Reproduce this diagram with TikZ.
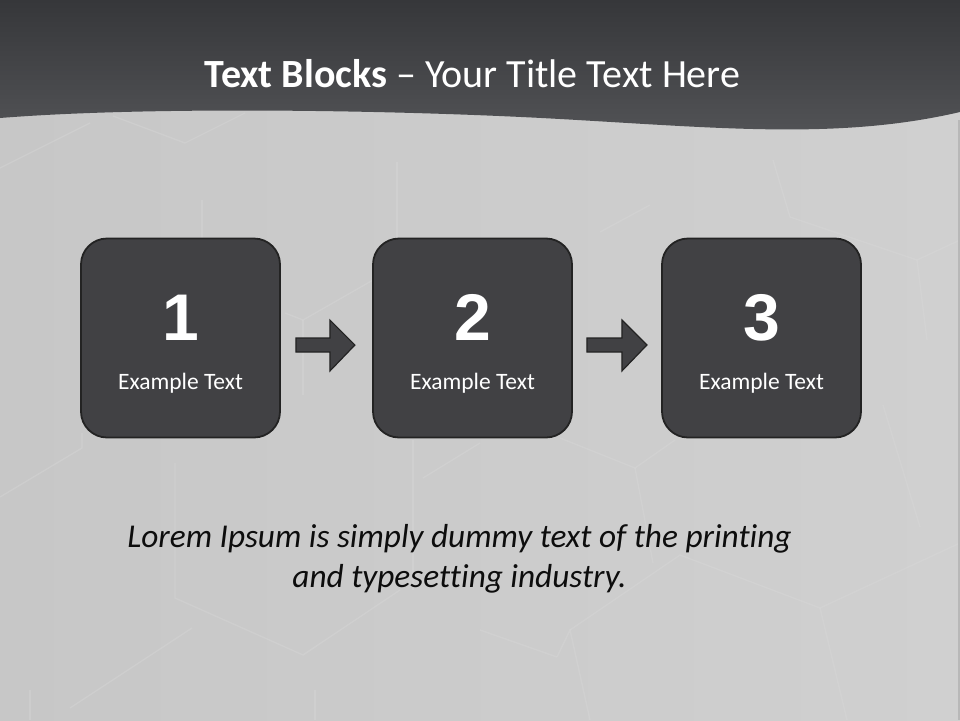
\documentclass[tikz,border=0pt]{standalone}
\usepackage{fontspec}
\setmainfont{Carlito}[Ligatures=NoCommon]
\newfontfamily\numfont{Liberation Sans}
\usetikzlibrary{calc}
\definecolor{bgleft}{HTML}{C7C7C7}
\definecolor{bgright}{HTML}{D0D0D0}
\definecolor{bandtop}{HTML}{36373A}
\definecolor{bandbot}{HTML}{535457}
\definecolor{boxfill}{HTML}{414144}
\definecolor{boxline}{HTML}{232323}
\definecolor{hexline}{HTML}{DADADA}
\tikzset{
  box/.style={draw=boxline, fill=boxfill, line width=1.8pt, rounded corners=26pt,
    minimum width=199pt, minimum height=199pt, inner sep=0pt},
  numtext/.style={text=white, anchor=base, font=\numfont\bfseries\fontsize{66}{70}\selectfont, inner sep=0pt},
  labtext/.style={text=white, anchor=base, font=\fontsize{23.5}{27}\selectfont, inner sep=0pt},
  blockarrow/.style={draw=boxline, fill=boxfill, line width=1.2pt, line join=miter},
  hex/.style={draw=hexline, line width=1.3pt, opacity=0.35}
}
\begin{document}
\begin{tikzpicture}[x=1pt,y=-1pt]
\useasboundingbox (0,0) rectangle (960,720);
% background
\shade[left color=bgleft, right color=bgright] (0,0) rectangle (960,720);
% faint hexagon pattern
\draw[hex] (0,168) -- (90,123);
\draw[hex] (113,116) -- (185,143) -- (245,113);
\draw[hex] (285,313) -- (303,320) -- (373,280);
\draw[hex] (303,320) -- (303,395);
\draw[hex] (202,200) -- (202,300);
\draw[hex] (397,162) -- (397,280);
\draw[hex] (0,497) -- (82,448) -- (82,433);
\draw[hex] (175,463) -- (175,598) -- (303,655) -- (400,590);
\draw[hex] (423,478) -- (480,443);
\draw[hex] (70,708) -- (192,628);
\draw[hex] (30,690) -- (30,720);
\draw[hex] (315,690) -- (315,720);
\draw[hex] (413,440) -- (413,590);
\draw[hex] (560,438) -- (635,468) -- (675,440);
\draw[hex] (635,468) -- (653,563);
\draw[hex] (480,630) -- (557,657);
\draw[hex] (570,630) -- (680,555) -- (820,608) -- (960,543);
\draw[hex] (820,608) -- (847,720);
\draw[hex] (557,657) -- (570,630) -- (590,720);
\draw[hex] (773,160) -- (790,217) -- (917,260) -- (960,240);
\draw[hex] (917,260) -- (927,340);
\draw[hex] (883,405) -- (920,527);
\draw[hex] (600,232) -- (650,205);
\draw[draw=black!28, line width=1.5pt] (959,120) -- (959,720);
% title band
\shade[top color=bandtop, bottom color=bandbot]
  (0,0) -- (960,0) -- (960,112)
  .. controls (840,140) and (720,128) .. (560,119)
  .. controls (400,110) and (150,106) .. (0,118) -- cycle;
\node[text=white, anchor=base, inner sep=0pt, font=\fontsize{40}{46}\selectfont] (title) at (472.5,87)
  {\textbf{Text Blocks} – Your Title Text Here};
% boxes
\node[box] (b1) at (180.5,338) {};
\node[box] (b2) at (472.5,338) {};
\node[box] (b3) at (761.5,338) {};
\node[numtext] (n1) at ($(b1.center)+(0,2)$) {1};
\node[numtext] (n2) at ($(b2.center)+(0,2)$) {2};
\node[numtext] (n3) at ($(b3.center)+(0,2)$) {3};
\node[labtext] (l1) at ($(b1.center)+(0,51)$) {Example Text};
\node[labtext] (l2) at ($(b2.center)+(0,51)$) {Example Text};
\node[labtext] (l3) at ($(b3.center)+(0,51)$) {Example Text};
% block arrows
\coordinate (a1) at ($(b1.east)+(15,7)$);
\coordinate (a2) at ($(b2.east)+(14,7)$);
\begin{scope}[shift={(a1)}]
  \draw[blockarrow] (0,-7) -- (34,-7) -- (34,-25) -- (59,0) -- (34,26) -- (34,7) -- (0,7) -- cycle;
\end{scope}
\begin{scope}[shift={(a2)}]
  \draw[blockarrow] (0,-7) -- (35,-7) -- (35,-25) -- (60,0) -- (35,26) -- (35,7) -- (0,7) -- cycle;
\end{scope}
% body text
\node[anchor=base, inner sep=0pt, text=black!95, font=\itshape\fontsize{33.3}{40}\selectfont] (lorem1) at (459.5,547)
  {Lorem Ipsum is simply dummy text of the printing};
\node[anchor=base, inner sep=0pt, text=black!95, font=\itshape\fontsize{33.3}{40}\selectfont] (lorem2) at (459.5,587)
  {and typesetting industry.};
\end{tikzpicture}
\end{document}
